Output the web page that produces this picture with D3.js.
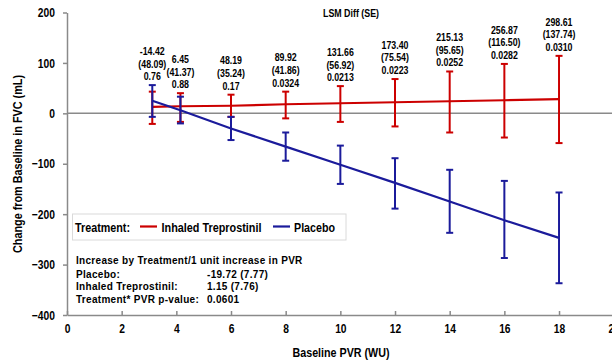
<!DOCTYPE html>
<html><head><meta charset="utf-8">
<script src="https://cdn.jsdelivr.net/npm/d3@7"></script>
<style>
body{margin:0;background:#fff;}
svg{display:block;}
.nar{font-family:'Liberation Sans',Arial,sans-serif;font-weight:bold;}
.reg{font-family:'Liberation Sans',Arial,sans-serif;font-weight:bold;}
</style></head>
<body>
<svg id="chart" width="612" height="362"></svg>
<script>
// ---- data ----
const pvr = [3.12, 4.15, 6, 8, 10, 12, 14, 16, 18];
const itreMean  = [13, 14, 15, 18, 20, 22, 24, 26, 28];
const itreLower = [-21, -17, -7, -10, -17, -26, -38, -48, -59];
const itreUpper = [43, 40, 37, 43, 54, 68, 83, 98, 114];
const placeboMean  = [25, 6, -30, -66, -102, -138, -175, -212, -247];
const placeboLower = [-7, -20, -53, -94, -140, -189, -237, -287, -337];
const placeboUpper = [56, 33, -7, -38, -64, -89, -112, -134, -157];
const lsmDiff = ["-14.42","6.45","48.19","89.92","131.66","173.40","215.13","256.87","298.61"];
const lsmSE = ["(48.09)","(41.37)","(35.24)","(41.86)","(56.92)","(75.54)","(95.65)","(116.50)","(137.74)"];
const pValues = ["0.76","0.88","0.17","0.0324","0.0213","0.0223","0.0252","0.0282","0.0310"];
const xTicks = [0, 2, 4, 6, 8, 10, 12, 14, 16, 18, 20];
const yTicks = [-400, -300, -200, -100, 0, 100, 200];
const statLabels = ["Placebo:", "Inhaled Treprostinil:", "Treatment* PVR p-value:"];
const statValues = ["-19.72 (7.77)", "1.15 (7.76)", "0.0601"];

const RED = "#cc0000", BLUE = "#1b1b9b", GRAY = "#8a8a8a";
const svg = d3.select("#chart");
const x = d3.scaleLinear().domain([0, 20]).range([67, 613.7]);
const y = d3.scaleLinear().domain([-400, 200]).range([315, 12.5]);

// squeeze text horizontally to mimic a condensed face
function condense(sel, f) {
  sel.each(function () {
    const w = this.getComputedTextLength();
    d3.select(this).attr("textLength", w * f).attr("lengthAdjust", "spacingAndGlyphs");
  });
}

// axes
const gy = svg.append("g").attr("transform", "translate(67,0)")
  .call(d3.axisLeft(y).tickValues(yTicks).tickSizeInner(4).tickSizeOuter(0).tickPadding(8));
gy.selectAll("text").attr("class", "nar").style("font-size", "13px").attr("fill", "#000").call(condense, 0.79);
const gx = svg.append("g").attr("transform", "translate(0,315)")
  .call(d3.axisBottom(x).tickValues(xTicks).tickSizeInner(-4).tickSizeOuter(0).tickPadding(8.5));
gx.selectAll("text").attr("class", "nar").style("font-size", "13px").attr("fill", "#000").call(condense, 0.79);
svg.selectAll(".domain, .tick line").attr("stroke", GRAY).attr("stroke-width", 1.5);

// zero line
svg.append("line").attr("x1", x(0)).attr("x2", 612).attr("y1", y(0)).attr("y2", y(0))
  .attr("stroke", GRAY).attr("stroke-width", 1.5);

// series
function drawSeries(mean, lower, upper, color) {
  const g = svg.append("g");
  const line = d3.line().x((d, i) => x(pvr[i])).y(d => y(d));
  g.append("path").datum(mean).attr("d", line).attr("fill", "none")
    .attr("stroke", color).attr("stroke-width", 2.2);
  pvr.forEach((p, i) => {
    const cx = x(p);
    g.append("line").attr("x1", cx).attr("x2", cx).attr("y1", y(lower[i])).attr("y2", y(upper[i]))
      .attr("stroke", color).attr("stroke-width", 2);
    [lower[i], upper[i]].forEach(v => {
      g.append("line").attr("x1", cx - 3.5).attr("x2", cx + 3.5).attr("y1", y(v)).attr("y2", y(v))
        .attr("stroke", color).attr("stroke-width", 2);
    });
  });
}
drawSeries(itreMean, itreLower, itreUpper, RED);
drawSeries(placeboMean, placeboLower, placeboUpper, BLUE);

// LSM Diff annotations
svg.append("text").attr("class", "nar").attr("x", 351).attr("y", 17)
  .attr("text-anchor", "middle").style("font-size", "10.5px").text("LSM Diff (SE)")
  .attr("textLength", 56).attr("lengthAdjust", "spacingAndGlyphs");
pvr.forEach((p, i) => {
  const top = Math.min(y(itreUpper[i]), y(placeboUpper[i]));
  const base = top - 5;
  [lsmDiff[i], lsmSE[i], pValues[i]].forEach((s, k) => {
    svg.append("text").attr("class", "nar").attr("text-anchor", "middle")
      .style("font-size", "11px").attr("x", x(p)).attr("y", base - (2 - k) * 12.6).text(s)
      .call(condense, 0.8);
  });
});

// legend
svg.append("rect").attr("x", 72.5).attr("y", 214).attr("width", 273.5).attr("height", 26)
  .attr("fill", "#fff").attr("stroke", "#dadada").attr("stroke-width", 1);
svg.append("text").attr("class", "nar").attr("x", 75).attr("y", 231.5).style("font-size", "13.5px")
  .text("Treatment:").attr("textLength", 55).attr("lengthAdjust", "spacingAndGlyphs");
svg.append("line").attr("x1", 140).attr("x2", 157).attr("y1", 226.5).attr("y2", 226.5).attr("stroke", RED).attr("stroke-width", 2.2);
svg.append("text").attr("class", "nar").attr("x", 161.5).attr("y", 231.5).style("font-size", "13.5px")
  .text("Inhaled Treprostinil").attr("textLength", 100).attr("lengthAdjust", "spacingAndGlyphs");
svg.append("line").attr("x1", 273).attr("x2", 290).attr("y1", 226.5).attr("y2", 226.5).attr("stroke", BLUE).attr("stroke-width", 2.2);
svg.append("text").attr("class", "nar").attr("x", 294).attr("y", 231.5).style("font-size", "13.5px")
  .text("Placebo").attr("textLength", 41).attr("lengthAdjust", "spacingAndGlyphs");

// stats block
svg.append("text").attr("class", "reg").attr("x", 76).attr("y", 264)
  .style("font-size", "10px").style("letter-spacing", "0.3px").text("Increase by Treatment/1 unit increase in PVR");
statLabels.forEach((s, k) => {
  const yy = 277.5 + k * 12.8;
  svg.append("text").attr("class", "reg").attr("x", 76).attr("y", yy)
    .style("font-size", "10px").style("letter-spacing", "0.3px").text(s);
  svg.append("text").attr("class", "reg").attr("x", 207).attr("y", yy)
    .style("font-size", "10px").style("letter-spacing", "0.3px").text(statValues[k]);
});

// axis titles
svg.append("text").attr("class", "nar").attr("text-anchor", "middle")
  .attr("transform", "translate(21.5,164) rotate(-90)").style("font-size", "13px")
  .text("Change from Baseline in FVC (mL)").attr("textLength", 178).attr("lengthAdjust", "spacingAndGlyphs");
svg.append("text").attr("class", "nar").attr("text-anchor", "middle")
  .attr("x", 341).attr("y", 356.5).style("font-size", "13px")
  .text("Baseline PVR (WU)").attr("textLength", 97).attr("lengthAdjust", "spacingAndGlyphs");
</script>
</body></html>
